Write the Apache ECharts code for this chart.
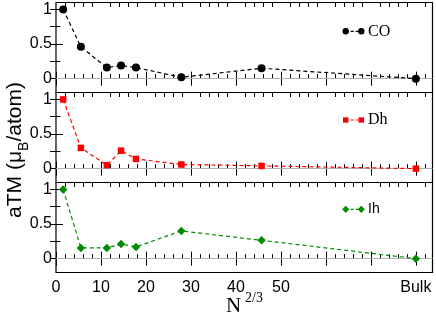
<!DOCTYPE html>
<html><head><meta charset="utf-8">
<script src="https://cdn.jsdelivr.net/npm/echarts@6/dist/echarts.min.js"></script>
<style>html,body{margin:0;padding:0;background:#fff}#c{width:436px;height:319px}</style>
</head><body><div id="c"></div>
<script>
// ---- data ----
const xN = [1.59, 5.53, 11.3, 14.46, 17.78, 27.86, 45.7, 80];
const coVals = [1.0, 0.46, 0.16, 0.19, 0.16, 0.02, 0.15, 0.0];
const dhVals = [1.0, 0.30, 0.05, 0.26, 0.14, 0.06, 0.04, 0.0];
const ihVals = [1.0, 0.155, 0.155, 0.21, 0.17, 0.40, 0.265, 0.0];
const seriesNames = ['CO', 'Dh', 'Ih'];
const xLabelValues = [0, 10, 20, 30, 40, 50, 80];
const xLabelTexts = ['0', '10', '20', '30', '40', '50', 'Bulk'];
const xMajorTicks = [0, 10, 20, 30, 40, 50, 60, 70, 80];
const xMinorTicks = [2,4,6,8,12,14,16,18,22,24,26,28,32,34,36,38,42,44,46,48,52,54,56,58,62,64,66,68,72,74,76,78,82];
const yLabelValues = [0, 0.5, 1];
const yLabelTexts = ['0', '0.5', '1'];
const yMinorTicks = [0.25, 0.75];
const yRightTicks = [0, 0.25, 0.5, 0.75, 1];

// ---- layout / style ----
const X_MIN = 0, X_MAX = 83.7, Y_MIN = -0.2, Y_MAX = 1.1;
const tops = [2.5, 92.5, 182.5];
const H = 90;
const colors = ['#000000', '#ff0000', '#008c00'];
const symbols = ['circle', 'rect', 'diamond'];
const symSizes = [8, 6.5, 8.5];
const allVals = [coVals, dhVals, ihVals];
const sans = 'Liberation Sans';
const serif = 'Liberation Serif';

const grids = tops.map(t => ({left: 56, right: 3.5, top: t, height: H, show: true,
  borderColor: '#000', borderWidth: 1.2, backgroundColor: 'transparent'}));

const xAxes = [], yAxes = [];
function xAx(g, pos, ticks, len, withLabels) {
  return {gridIndex: g, type: 'value', min: X_MIN, max: X_MAX, position: pos,
    axisLine: {show: false}, splitLine: {show: false},
    axisTick: {show: true, inside: true, length: len, customValues: ticks, lineStyle: {color: '#000', width: 1}},
    axisLabel: withLabels ? {show: true, customValues: xLabelValues,
      formatter: v => { const i = xLabelValues.indexOf(v); return i >= 0 ? xLabelTexts[i] : ''; },
      fontSize: 16, color: '#000', margin: 7, fontFamily: sans} : {show: false}};
}
function yAx(g, pos, ticks, len, withLabels) {
  return {gridIndex: g, type: 'value', min: Y_MIN, max: Y_MAX, position: pos,
    axisLine: {show: false}, splitLine: {show: false},
    axisTick: {show: true, inside: true, length: len, customValues: ticks, lineStyle: {color: '#000', width: 1}},
    axisLabel: withLabels ? {show: true, customValues: yLabelValues,
      formatter: v => { const i = yLabelValues.findIndex(a => Math.abs(a - v) < 1e-9); return i >= 0 ? yLabelTexts[i] : ''; },
      fontSize: 16, color: '#000', margin: 4, fontFamily: sans} : {show: false}};
}
for (let g = 0; g < 3; g++) {
  xAxes.push(xAx(g, 'bottom', xMajorTicks, 7, g === 2));
  xAxes.push(xAx(g, 'bottom', xMinorTicks, 4.5, false));
  xAxes.push(xAx(g, 'top', xMajorTicks, 7, false));
  xAxes.push(xAx(g, 'top', xMinorTicks, 4.5, false));
  yAxes.push(yAx(g, 'left', yLabelValues, 7, true));
  yAxes.push(yAx(g, 'left', yMinorTicks, 4.5, false));
  yAxes.push(yAx(g, 'right', yRightTicks, 6, false));
}

const series = allVals.map((vals, g) => ({
  name: seriesNames[g], type: 'line', xAxisIndex: g * 4, yAxisIndex: g * 3,
  data: xN.map((x, i) => [x, vals[i]]),
  symbol: symbols[g], symbolSize: symSizes[g],
  itemStyle: {color: colors[g]},
  lineStyle: {color: colors[g], width: 1.2, type: [4, 3]},
  animation: false, z: 3,
  markLine: {silent: true, symbol: 'none', animation: false, label: {show: false},
    lineStyle: {color: '#b0b0b0', type: 'solid', width: 1}, data: [{yAxis: 0}], z: 1}
}));

// legends (drawn as graphics)
const legY = [31.3, 120, 209.3];
const legFonts = [serif, serif, sans];
const legSizes = [16, 16, 14];
const graphic = [];
legY.forEach((y, g) => {
  const c = colors[g];
  graphic.push({type: 'line', shape: {x1: 345.7, y1: y, x2: 361.3, y2: y},
    style: {stroke: c, lineWidth: 1.2, lineDash: [3, 2]}});
  [345.7, 361.3].forEach(x => {
    if (g === 0) graphic.push({type: 'circle', shape: {cx: x, cy: y, r: 3.2}, style: {fill: c}});
    else if (g === 1) graphic.push({type: 'rect', shape: {x: x - 2.7, y: y - 2.7, width: 5.4, height: 5.4}, style: {fill: c}});
    else graphic.push({type: 'polygon', shape: {points: [[x, y - 3.6], [x + 3.6, y], [x, y + 3.6], [x - 3.6, y]]}, style: {fill: c}});
  });
  graphic.push({type: 'text', x: 368, y: y, style: {text: seriesNames[g], fill: '#000',
    font: legSizes[g] + 'px "' + legFonts[g] + '"', textAlign: 'left', textVerticalAlign: 'middle'}});
});
// y-axis title
graphic.push({type: 'text', x: 15, y: 150, rotation: Math.PI / 2,
  style: {text: '{m|aTM (μ}{s|B}{m|/atom)}', textAlign: 'center', textVerticalAlign: 'middle',
    rich: {m: {fontSize: 21, fontFamily: sans, fill: '#000', lineHeight: 24, verticalAlign: 'middle'},
           s: {fontSize: 14, fontFamily: sans, fill: '#000', lineHeight: 32, verticalAlign: 'bottom'}}}});
// x-axis title
graphic.push({type: 'text', x: 226, y: 317, style: {text: 'N', fill: '#000', font: '21px "' + serif + '"',
  textAlign: 'left', textVerticalAlign: 'bottom'}});
graphic.push({type: 'text', x: 245, y: 291, style: {text: '2/3', fill: '#000', font: '14px "' + serif + '"',
  textAlign: 'left', textVerticalAlign: 'top'}});

const chart = echarts.init(document.getElementById('c'), null, {renderer: 'canvas'});
chart.setOption({animation: false, grid: grids, xAxis: xAxes, yAxis: yAxes, series: series, graphic: graphic});
</script></body></html>
